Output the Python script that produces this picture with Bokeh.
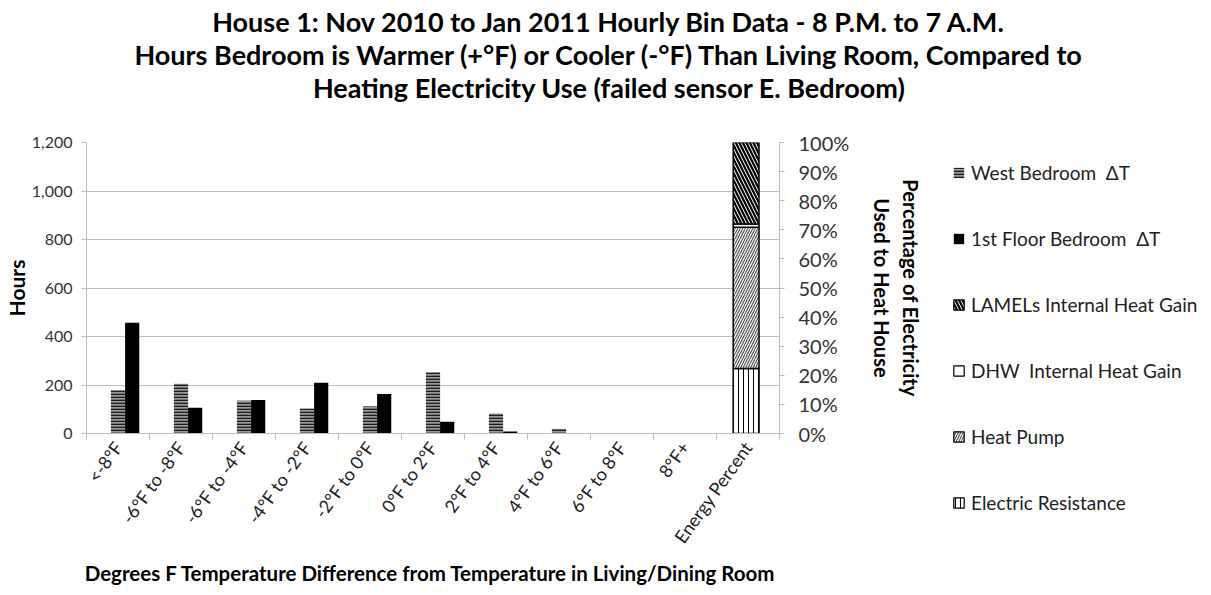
from bokeh.plotting import figure
from bokeh.layouts import column, row
from bokeh.models import (Range1d, LinearAxis, FixedTicker, NumeralTickFormatter,
                          Legend, LegendItem, ColumnDataSource)
from bokeh.core.properties import value
from bokeh.embed import file_html
from bokeh.resources import INLINE

# ---------------- data ----------------
categories = ["<-8°F", "-6°F to -8°F", "-6°F to -4°F", "-4°F to -2°F", "-2°F to 0°F",
              "0°F to 2°F", "2°F to 4°F", "4°F to 6°F", "6°F to 8°F", "8°F+", "Energy Percent"]
west_bedroom = [178, 205, 135, 103, 111, 253, 82, 20, 0, 0, 0]
first_floor = [457, 106, 138, 209, 163, 48, 8, 0, 0, 0, 0]
energy_labels = ["Electric Resistance", "Heat Pump", "DHW  Internal Heat Gain", "LAMELs Internal Heat Gain"]
energy_pct = [0.223, 0.486, 0.011, 0.280]
y_ticks = [0, 200, 400, 600, 800, 1000, 1200]
pct_ticks = [0.0, 0.1, 0.2, 0.3, 0.4, 0.5, 0.6, 0.7, 0.8, 0.9, 1.0]
title_lines = ["House 1: Nov 2010 to Jan 2011 Hourly Bin Data - 8 P.M. to 7 A.M.",
               "Hours Bedroom is Warmer (+°F) or Cooler (-°F) Than Living Room, Compared to",
               "Heating Electricity Use (failed sensor E. Bedroom)"]

FONT = "Lato"
n = len(categories)
centers = [i + 0.5 for i in range(n)]
BW = 0.225
W = 1208
MAIN_W = 929
TITLE_H = 104
MAIN_H = 483

# ---------------- styles ----------------
west_style = dict(fill_color="#9a9a9a", line_color=None, hatch_pattern="horizontal_line",
                  hatch_color="#1e1e1e", hatch_scale=3, hatch_weight=1.6)
first_style = dict(fill_color="black", line_color=None)
energy_styles = [
    dict(fill_color="white", hatch_pattern="vertical_line", hatch_color="black", hatch_scale=5,
         hatch_weight=1, line_color="black", line_width=1.5),
    dict(fill_color="white", hatch_pattern="right_diagonal_line", hatch_color="#555555", hatch_scale=5,
         hatch_weight=1.2, line_color="black", line_width=1.5),
    dict(fill_color="white", line_color="black", line_width=1.5),
    dict(fill_color="white", hatch_pattern="left_diagonal_line", hatch_color="black", hatch_scale=7,
         hatch_weight=2.2, line_color="black", line_width=1.5),
]

# ---------------- title figure ----------------
pt = figure(width=W, height=TITLE_H, output_backend="svg", toolbar_location=None,
            x_range=Range1d(0, W), y_range=Range1d(0, TITLE_H),
            x_axis_location=None, y_axis_location=None, min_border=0, outline_line_color=None)
pt.grid.visible = False
pt.text(x=[609, 609, 609], y=[83, 50, 17], text=title_lines, text_align="center",
        text_baseline="middle", text_font=value(FONT), text_font_style="bold",
        text_font_size=value("27px"), text_color="black")

# ---------------- main figure ----------------
p = figure(width=MAIN_W, height=MAIN_H, output_backend="svg", toolbar_location=None,
           x_range=Range1d(0, n), y_range=Range1d(0, 1200),
           min_border_left=76, min_border_right=150, min_border_top=38, min_border_bottom=153,
           outline_line_color=None)
p.extra_y_ranges = {"pct": Range1d(0, 1)}
p.xgrid.visible = False
p.ygrid.ticker = FixedTicker(ticks=y_ticks)
p.ygrid.grid_line_color = "#bdbdbd"

src = ColumnDataSource(dict(x=centers, west=west_bedroom, first=first_floor,
                            x2=[c + BW for c in centers]))
p.vbar(x="x", top="west", width=BW, source=src, **west_style)
p.vbar(x="x2", top="first", width=BW, source=src, **first_style)

bottoms, tops = [], []
acc = 0.0
for v in energy_pct:
    bottoms.append(acc)
    acc += v
    tops.append(acc)
ex = centers[-1] - 0.03
for b, t, st in zip(bottoms, tops, energy_styles):
    p.vbar(x=[ex], bottom=[b], top=[t], width=0.41, y_range_name="pct", **st)

xa = p.xaxis[0]
xa.ticker = FixedTicker(ticks=centers, minor_ticks=list(range(n + 1)))
xa.major_label_overrides = {c: lab for c, lab in zip(centers, categories)}
xa.major_label_orientation = 0.95
xa.major_tick_line_color = None
xa.minor_tick_in = 0
xa.minor_tick_out = 6
xa.minor_tick_line_color = "#bdbdbd"
xa.axis_line_color = "#bdbdbd"
xa.major_label_text_font = FONT
xa.major_label_text_font_size = "18px"
xa.major_label_text_color = "#222222"
xa.major_label_standoff = 4
xa.axis_label = "Degrees  F Temperature Difference from Temperature in Living/Dining Room"
xa.axis_label_text_font = FONT
xa.axis_label_text_font_style = "bold"
xa.axis_label_text_font_size = "20.5px"
xa.axis_label_text_color = "black"
xa.axis_label_standoff = 4

ya = p.yaxis[0]
ya.ticker = FixedTicker(ticks=y_ticks)
ya.formatter = NumeralTickFormatter(format="0,0")
ya.minor_tick_line_color = None
ya.major_tick_in = 0
ya.major_tick_out = 5
ya.major_tick_line_color = "#bdbdbd"
ya.axis_line_color = "#bdbdbd"
ya.major_label_text_font = FONT
ya.major_label_text_font_size = "16px"
ya.major_label_text_color = "#333333"
ya.major_label_standoff = 9
ya.axis_label = "Hours"
ya.axis_label_text_font = FONT
ya.axis_label_text_font_style = "bold"
ya.axis_label_text_font_size = "21px"
ya.axis_label_text_color = "black"
ya.axis_label_standoff = 0

ra = LinearAxis(y_range_name="pct", ticker=FixedTicker(ticks=pct_ticks),
                formatter=NumeralTickFormatter(format="0%"))
ra.minor_tick_line_color = None
ra.major_tick_in = 0
ra.major_tick_out = 5
ra.major_tick_line_color = "#bdbdbd"
ra.axis_line_color = "#bdbdbd"
ra.major_label_text_font = FONT
ra.major_label_text_font_size = "20px"
ra.major_label_text_color = "#333333"
ra.major_label_standoff = 14
ra.axis_label = "Percentage of Electricity\nUsed to Heat House"
ra.axis_label_text_font = FONT
ra.axis_label_text_font_style = "bold"
ra.axis_label_text_font_size = "20px"
ra.axis_label_text_color = "black"
ra.axis_label_standoff = 18
p.add_layout(ra, "right")

# ---------------- legend figure ----------------
pl = figure(width=W - MAIN_W, height=MAIN_H, output_backend="svg", toolbar_location=None,
            x_range=Range1d(0, 1), y_range=Range1d(0, 1),
            x_axis_location=None, y_axis_location=None, min_border=0, outline_line_color=None)
pl.grid.visible = False
legend_labels = ["West Bedroom  ΔT", "1st Floor Bedroom  ΔT", energy_labels[3],
                 energy_labels[2], energy_labels[1], energy_labels[0]]
legend_styles = [west_style, first_style, energy_styles[3], energy_styles[2],
                 energy_styles[1], energy_styles[0]]
items = []
for lab, st in zip(legend_labels, legend_styles):
    st2 = dict(st)
    if "line_width" in st2:
        st2["line_width"] = 1.2
    r = pl.vbar(x=[0.5], bottom=[float("nan")], top=[float("nan")], width=0.1, **st2)
    items.append(LegendItem(label=lab, renderers=[r]))
legend = Legend(items=items, location=(23, 73), border_line_color=None,
                background_fill_alpha=0, label_text_font=FONT, label_text_font_size="19px",
                label_text_color="#222222", glyph_width=13, glyph_height=13,
                label_height=24, spacing=42, padding=0, margin=0, label_standoff=6)
pl.add_layout(legend, "center")

layout = column(pt, row(column(p), pl))
open("out.html", "w").write(file_html(layout, INLINE))
